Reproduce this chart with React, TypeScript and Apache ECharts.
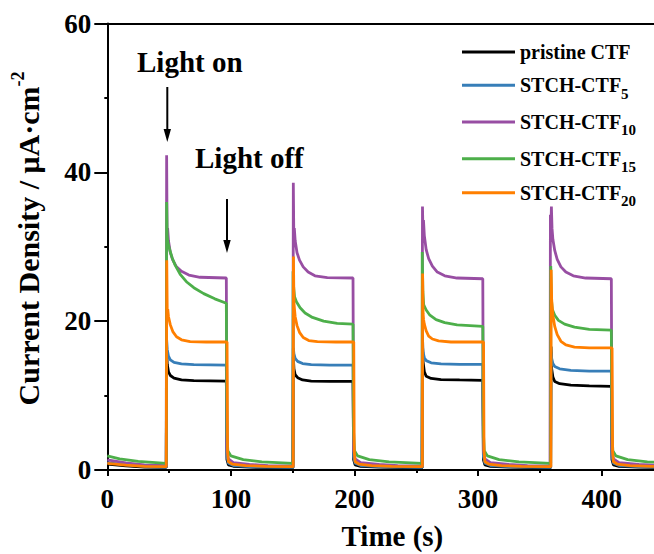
import React, { useEffect, useRef } from "react";
import * as echarts from "echarts";

const seriesNames = ["pristine CTF", "STCH-CTF5", "STCH-CTF10", "STCH-CTF15", "STCH-CTF20"];
const seriesColors = ["#000000", "#377eb8", "#984ea3", "#4daf4a", "#ff7f00"];

const xTicks = [0, 100, 200, 300, 400];
const yTicks = [0, 20, 40, 60];

const pristine: number[][] = [
  [0, 0.8], [15, 0.55], [30, 0.4], [47.7, 0.35],
  [48, 16.0], [48.5, 14.2], [49.5, 13.2], [51, 12.7], [54, 12.35], [60, 12.1], [70, 12.0], [96.3, 11.95],
  [96.8, 1.4], [98, 0.7], [102, 0.5], [115, 0.38], [130, 0.32], [150.2, 0.3],
  [150.5, 15.2], [151, 13.6], [152, 12.8], [154, 12.4], [158, 12.1], [165, 11.95], [180, 11.9], [198.8, 11.9],
  [199.3, 1.4], [200.5, 0.7], [205, 0.5], [220, 0.38], [240, 0.32], [254.7, 0.3],
  [255, 18.1], [255.5, 14.5], [256.5, 13.2], [258, 12.6], [262, 12.3], [270, 12.15], [285, 12.1], [303.8, 12.05],
  [304.3, 1.4], [305.5, 0.7], [310, 0.5], [325, 0.38], [345, 0.32], [358.7, 0.3],
  [359, 16.6], [359.5, 13.6], [360.5, 12.5], [362, 11.9], [366, 11.6], [375, 11.4], [390, 11.3], [407.8, 11.25],
  [408.3, 1.4], [409.5, 0.7], [414, 0.5], [430, 0.38], [450, 0.32],
];

const stch5: number[][] = [
  [0, 1.0], [15, 0.7], [30, 0.5], [47.7, 0.4],
  [48, 17.5], [48.5, 16.2], [49.5, 15.3], [51, 14.8], [54, 14.45], [60, 14.25], [70, 14.15], [96.3, 14.1],
  [96.8, 1.8], [98, 0.9], [102, 0.6], [115, 0.45], [130, 0.4], [150.2, 0.35],
  [150.5, 16.4], [151, 15.6], [152, 15.0], [154, 14.6], [158, 14.3], [165, 14.15], [180, 14.1], [198.8, 14.1],
  [199.3, 1.8], [200.5, 0.9], [205, 0.6], [220, 0.45], [240, 0.4], [254.7, 0.35],
  [255, 16.6], [255.5, 15.8], [256.5, 15.1], [258, 14.7], [262, 14.4], [270, 14.25], [285, 14.2], [303.8, 14.2],
  [304.3, 1.8], [305.5, 0.9], [310, 0.6], [325, 0.45], [345, 0.4], [358.7, 0.35],
  [359, 15.7], [359.5, 15.0], [360.5, 14.3], [362, 13.9], [366, 13.6], [375, 13.4], [390, 13.3], [407.8, 13.3],
  [408.3, 1.8], [409.5, 0.9], [414, 0.6], [430, 0.45], [450, 0.4],
];

const stch10: number[][] = [
  [0, 1.35], [15, 0.95], [30, 0.7], [47.7, 0.6],
  [48, 42.3], [48.4, 31.5], [48.8, 32.5], [49.5, 30.8], [51, 29.2], [53, 28.2], [56, 27.3], [60, 26.7], [66, 26.2], [75, 25.9], [96.3, 25.8],
  [96.8, 2.8], [98, 1.5], [102, 1.0], [115, 0.75], [130, 0.6], [150.2, 0.55],
  [150.5, 38.6], [150.9, 31.5], [151.3, 32.5], [152, 30.8], [153.5, 29.2], [155.5, 28.2], [158.5, 27.3], [162.5, 26.6], [168, 26.1], [178, 25.85], [198.8, 25.8],
  [199.3, 2.8], [200.5, 1.5], [205, 1.0], [220, 0.75], [235, 0.6], [254.7, 0.55],
  [255, 35.4], [255.4, 32.0], [255.8, 33.6], [256.5, 31.5], [258, 29.6], [260, 28.4], [263, 27.4], [267, 26.6], [273, 26.1], [283, 25.8], [303.8, 25.7],
  [304.3, 2.8], [305.5, 1.5], [310, 1.0], [325, 0.75], [340, 0.6], [358.2, 0.55],
  [358.5, 34.3], [358.8, 31.0], [359.3, 35.4], [359.8, 32.5], [360.5, 31.0], [362, 29.5], [364, 28.3], [367, 27.3], [371, 26.6], [377, 26.1], [387, 25.8], [407.8, 25.7],
  [408.3, 2.8], [409.5, 1.5], [414, 1.0], [430, 0.75], [450, 0.6],
];

const stch15: number[][] = [
  [0, 1.9], [10, 1.5], [25, 1.15], [47.7, 0.9],
  [48, 36.0], [48.4, 31.5], [49, 30.6], [50.5, 29.6], [52.5, 28.5], [55, 27.5], [59, 26.3], [64, 25.3], [70, 24.5], [78, 23.7], [87, 23.0], [96.3, 22.4],
  [96.8, 5.0], [97.5, 2.6], [100, 1.9], [110, 1.4], [125, 1.1], [150.2, 0.9],
  [150.3, 26.7], [150.8, 24.5], [151.5, 23.3], [153, 22.6], [156, 21.8], [160, 21.1], [166, 20.5], [175, 20.0], [186, 19.7], [198.8, 19.6],
  [199.3, 5.0], [200, 2.6], [202.5, 1.9], [212, 1.4], [228, 1.1], [254.7, 0.9],
  [254.8, 29.3], [255.3, 24.0], [256, 22.2], [258, 21.5], [261, 20.8], [266, 20.2], [273, 19.8], [283, 19.5], [303.8, 19.3],
  [304.3, 5.0], [305, 2.6], [307.5, 1.9], [317, 1.4], [333, 1.1], [358.7, 0.9],
  [358.8, 27.4], [359.3, 23.0], [360, 21.6], [362, 20.8], [365, 20.1], [370, 19.6], [378, 19.2], [390, 18.9], [407.8, 18.8],
  [408.3, 5.0], [409, 2.6], [411.5, 1.9], [421, 1.4], [437, 1.1], [450, 1.0],
];

const stch20: number[][] = [
  [0, 0.9], [15, 0.65], [30, 0.5], [47.7, 0.45],
  [48.1, 28.2], [48.5, 21.2], [48.9, 21.6], [49.5, 20.6], [51, 19.5], [53, 18.6], [56, 17.9], [60, 17.5], [67, 17.25], [80, 17.2], [96.9, 17.2],
  [97.3, 2.5], [98, 1.1], [101, 0.8], [112, 0.6], [128, 0.5], [150.4, 0.45],
  [150.6, 28.7], [151, 22.5], [151.4, 21.7], [152, 20.6], [153.5, 19.4], [155.5, 18.5], [158.5, 17.8], [163, 17.4], [170, 17.25], [185, 17.2], [199.4, 17.2],
  [199.8, 2.5], [200.5, 1.1], [203.5, 0.8], [214, 0.6], [230, 0.5], [254.9, 0.45],
  [255.1, 26.4], [255.5, 21.0], [255.9, 20.2], [256.5, 19.6], [258, 18.7], [260, 18.0], [263, 17.6], [268, 17.35], [278, 17.2], [304.4, 17.2],
  [304.8, 2.5], [305.5, 1.1], [308.5, 0.8], [319, 0.6], [335, 0.5], [358.9, 0.45],
  [359.1, 26.9], [359.5, 23.0], [359.9, 22.0], [360.5, 20.8], [362, 19.3], [364, 18.2], [367, 17.3], [371, 16.8], [378, 16.5], [390, 16.4], [408.4, 16.4],
  [408.8, 2.5], [409.5, 1.1], [412.5, 0.8], [423, 0.6], [440, 0.5], [450, 0.45],
];

const allData = [pristine, stch5, stch10, stch15, stch20];

const FONT = "Liberation Serif";
// vertical centre (px) of each legend row's line sample
const legendRowCenters = [50, 83.3, 120, 156.7, 190.7];

export default function App() {
  const ref = useRef<HTMLDivElement>(null);
  useEffect(() => {
    if (!ref.current) return;
    const chart = echarts.init(ref.current, null, { renderer: "svg" });
    const legendFormatter = (name: string) => {
      const m = name.match(/^STCH-CTF(\d+)$/);
      if (m) return `{b|STCH-CTF}{s|${m[1]}}`;
      return `{b|${name}}`;
    };
    const legendRich = {
      b: { fontFamily: FONT, fontWeight: "bold", fontSize: 20, lineHeight: 20, color: "#000", verticalAlign: "middle" },
      s: { fontFamily: FONT, fontWeight: "bold", fontSize: 15, lineHeight: 20, color: "#000", verticalAlign: "top", padding: [10.9, 0, 0, 0] },
    };
    const legends = seriesNames.map((name, i) => ({
      orient: "vertical",
      left: 462,
      top: legendRowCenters[i] - 8,
      padding: 0,
      itemWidth: 53,
      itemHeight: 3,
      icon: "rect",
      data: [name],
      formatter: legendFormatter,
      textStyle: { fontFamily: FONT, fontWeight: "bold", color: "#000", rich: legendRich },
    }));
    const option: any = {
      animation: false,
      backgroundColor: "#ffffff",
      grid: { left: 107.3, right: -9.5, top: 23.5, bottom: 84, outerBoundsMode: "none", containLabel: false },
      legend: legends,
      xAxis: [
        {
          type: "value",
          position: "bottom",
          min: 0,
          max: 450,
          interval: 100,
          name: "Time (s)",
          nameLocation: "middle",
          nameGap: 51,
          nameTextStyle: { fontFamily: FONT, fontWeight: "bold", fontSize: 29, color: "#000", padding: [0, 0, 0, 14] },
          axisLine: { show: true, onZero: false, lineStyle: { color: "#000", width: 2 } },
          axisTick: { show: true, length: 6, lineStyle: { color: "#000", width: 2 } },
          axisLabel: {
            fontFamily: FONT,
            fontWeight: "bold",
            fontSize: 27,
            color: "#000",
            margin: 15,
            showMaxLabel: false,
            formatter: (v: number) => (xTicks.includes(v) ? String(v) : ""),
          },
          splitLine: { show: false },
        },
        {
          type: "value",
          position: "bottom",
          min: 0,
          max: 450,
          interval: 50,
          axisLine: { show: false },
          axisTick: { show: true, length: 3, lineStyle: { color: "#000", width: 2 } },
          axisLabel: { show: false },
          splitLine: { show: false },
        },
        {
          type: "value",
          position: "top",
          min: 0,
          max: 450,
          axisLine: { show: true, lineStyle: { color: "#000", width: 2 } },
          axisTick: { show: false },
          axisLabel: { show: false },
          splitLine: { show: false },
        },
      ],
      yAxis: {
        type: "value",
        min: 0,
        max: 60,
        interval: 20,
        name: "{a|Current Density / μA·cm}{u|-2}",
        nameLocation: "middle",
        nameRotate: 90,
        nameGap: 64,
        nameTextStyle: {
          fontFamily: FONT,
          fontWeight: "bold",
          fontSize: 30,
          color: "#000",
          rich: {
            a: { fontFamily: FONT, fontWeight: "bold", fontSize: 30, color: "#000", lineHeight: 34, verticalAlign: "bottom", padding: [0, 0, 0, 16.5] },
            u: { fontFamily: FONT, fontWeight: "bold", fontSize: 18, color: "#000", lineHeight: 18, verticalAlign: "top" },
          },
        },
        axisLine: { show: true, lineStyle: { color: "#000", width: 2 } },
        axisTick: { show: true, length: 13, lineStyle: { color: "#000", width: 2 } },
        minorTick: { show: true, splitNumber: 2, length: 3, lineStyle: { color: "#000", width: 2 } },
        axisLabel: {
          fontFamily: FONT,
          fontWeight: "bold",
          fontSize: 27,
          color: "#000",
          margin: 16,
          formatter: (v: number) => (yTicks.includes(v) ? String(v) : ""),
        },
        splitLine: { show: false },
        minorSplitLine: { show: false },
      },
      series: seriesNames.map((name, i) => ({
        name,
        type: "line",
        xAxisIndex: 0,
        data: allData[i],
        showSymbol: false,
        symbol: "none",
        smooth: false,
        color: seriesColors[i],
        lineStyle: { color: seriesColors[i], width: 2.8 },
        z: 2 + i,
      })),
      graphic: [
        {
          type: "text",
          left: 137,
          top: 47,
          style: { text: "Light on", fontFamily: FONT, fontWeight: "bold", fontSize: 29, fill: "#000" },
        },
        { type: "line", shape: { x1: 167.3, y1: 87, x2: 167.3, y2: 132 }, style: { stroke: "#000", lineWidth: 2 } },
        { type: "polygon", shape: { points: [[163.6, 129], [171, 129], [167.3, 142]] }, style: { fill: "#000" } },
        {
          type: "text",
          left: 195,
          top: 143,
          style: { text: "Light off", fontFamily: FONT, fontWeight: "bold", fontSize: 29, fill: "#000" },
        },
        { type: "line", shape: { x1: 227, y1: 199, x2: 227, y2: 243 }, style: { stroke: "#000", lineWidth: 2 } },
        { type: "polygon", shape: { points: [[223.3, 240], [230.7, 240], [227, 253]] }, style: { fill: "#000" } },
      ],
    };
    chart.setOption(option);
    return () => chart.dispose();
  }, []);
  return (
    <div
      ref={ref}
      style={{ position: "fixed", left: 0, top: 0, width: 654, height: 554, background: "#fff" }}
    />
  );
}
